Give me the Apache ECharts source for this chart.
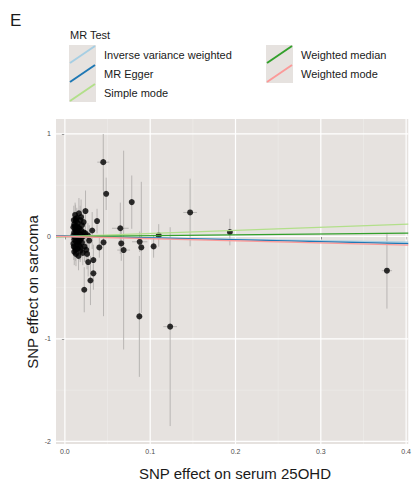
<!DOCTYPE html>
<html><head><meta charset="utf-8">
<script src="https://cdn.jsdelivr.net/npm/echarts@6/dist/echarts.min.js"></script>
<style>html,body{margin:0;padding:0;background:#fff}#c{width:414px;height:486px}</style>
</head><body><div id="c"></div>
<script>
// ---- data ----
const snpX = [
  0.0450, 0.0453, 0.0484, 0.0242, 0.0377, 0.0650, 0.0784, 0.1468, 0.1100, 0.0404,
  0.0661, 0.0689, 0.0877, 0.0896, 0.1040, 0.0334, 0.0273, 0.0334, 0.0300, 0.0227,
  0.0873, 0.1234, 0.3775, 0.1934,
  0.0120, 0.0140, 0.0165, 0.0130, 0.0110, 0.0150, 0.0180, 0.0100, 0.0120, 0.0140,
  0.0170, 0.0200, 0.0110, 0.0130, 0.0160, 0.0190, 0.0220, 0.0100, 0.0120, 0.0150,
  0.0180, 0.0210, 0.0240, 0.0270, 0.0320, 0.0110, 0.0130, 0.0160, 0.0190, 0.0100,
  0.0140, 0.0170, 0.0120, 0.0200, 0.0230, 0.0150, 0.0110, 0.0130, 0.0180, 0.0160,
  0.0210, 0.0250, 0.0260, 0.0190, 0.0220, 0.0170, 0.0145, 0.0125, 0.0105, 0.0155,
  0.0135, 0.0115, 0.0175, 0.0285, 0.0125, 0.0155, 0.0105, 0.0185
];
const snpY = [
  0.725, -0.058, 0.416, 0.248, 0.150, 0.080, 0.335, 0.234, 0.010, -0.107,
  -0.068, -0.133, -0.052, -0.107, -0.097, -0.230, -0.250, -0.360, -0.430, -0.520,
  -0.780, -0.880, -0.334, 0.043,
  0.210, 0.180, 0.225, 0.150, 0.120, 0.130, 0.160, 0.090, 0.070, 0.100,
  0.080, 0.110, 0.040, 0.050, 0.030, 0.060, 0.040, 0.010, -0.010, 0.000,
  0.020, 0.000, 0.030, 0.010, 0.058, -0.030, -0.050, -0.040, -0.020, -0.070,
  -0.080, -0.090, -0.110, -0.060, -0.100, -0.120, -0.150, -0.170, -0.140, -0.190,
  -0.160, -0.130, -0.170, 0.190, 0.140, -0.010, 0.060, -0.130, 0.160, -0.060,
  0.020, 0.100, -0.040, -0.040, 0.170, 0.085, -0.100, -0.110
];
const seX = [
  0.0070, 0.0030, 0.0030, 0.0025, 0.0025, 0.0098, 0.0030, 0.0080, 0.0020, 0.0025,
  0.0030, 0.0075, 0.0090, 0.0030, 0.0025, 0.0025, 0.0025, 0.0025, 0.0025, 0.0025,
  0.0030, 0.0080, 0.0060, 0.0020,
  0.0015, 0.0015, 0.0015, 0.0015, 0.0015, 0.0015, 0.0015, 0.0015, 0.0015, 0.0015,
  0.0015, 0.0015, 0.0015, 0.0015, 0.0015, 0.0015, 0.0015, 0.0015, 0.0015, 0.0015,
  0.0015, 0.0015, 0.0015, 0.0015, 0.0020, 0.0015, 0.0015, 0.0015, 0.0015, 0.0015,
  0.0015, 0.0015, 0.0015, 0.0015, 0.0015, 0.0015, 0.0015, 0.0015, 0.0015, 0.0015,
  0.0015, 0.0015, 0.0015, 0.0015, 0.0015, 0.0015, 0.0015, 0.0015, 0.0015, 0.0015,
  0.0015, 0.0015, 0.0015, 0.0020, 0.0015, 0.0015, 0.0015, 0.0015
];
const seY = [
  0.275, 0.720, 0.158, 0.200, 0.120, 0.250, 0.260, 0.330, 0.110, 0.100,
  0.170, 0.970, 0.100, 0.640, 0.110, 0.150, 0.140, 0.160, 0.240, 0.220,
  0.590, 0.970, 0.370, 0.130,
  0.120, 0.100, 0.150, 0.110, 0.130, 0.090, 0.140, 0.120, 0.100, 0.080,
  0.130, 0.150, 0.110, 0.090, 0.120, 0.100, 0.140, 0.120, 0.100, 0.130,
  0.090, 0.110, 0.160, 0.120, 0.180, 0.110, 0.120, 0.100, 0.130, 0.120,
  0.090, 0.140, 0.110, 0.120, 0.150, 0.100, 0.130, 0.120, 0.110, 0.140,
  0.120, 0.130, 0.150, 0.170, 0.130, 0.100, 0.120, 0.110, 0.140, 0.100,
  0.120, 0.130, 0.110, 0.150, 0.140, 0.110, 0.130, 0.120
];
const methods = ['Inverse variance weighted', 'MR Egger', 'Simple mode', 'Weighted median', 'Weighted mode'];
const methodIntercept = [0, 0.006, 0, 0, 0];
const methodSlope = [-0.14, -0.19, 0.30, 0.08, -0.21];
const methodColors = ['#a6cee3', '#1f78b4', '#b2df8a', '#33a02c', '#fb9a99'];
const xTicks = [0, 0.1, 0.2, 0.3, 0.4];
const yTicks = [-2, -1, 0, 1];
const xMinor = [0.05, 0.15, 0.25, 0.35];
const yMinor = [-1.5, -0.5, 0.5];
const X_MIN = -0.0104, X_MAX = 0.4025, Y_MIN = -2.025, Y_MAX = 1.146;

// ---- build ----
const FONT = '"Liberation Sans", Arial, Helvetica, sans-serif';
const PANEL = '#e6e2df';
const chart = echarts.init(document.getElementById('c'), null, {renderer: 'svg'});

const points = snpX.map((x, i) => [x, snpY[i], seX[i], seY[i]]);
const gridData = []
  .concat(xMinor.map(v => [v, 1]))
  .concat(yMinor.map(v => [v, 3]))
  .concat(xTicks.map(v => [v, 0]))
  .concat(yTicks.map(v => [v, 2]));

const lineSeries = methods.map((m, i) => ({
  type: 'line', name: m, z: 5, clip: true, symbol: 'none', silent: true,
  lineStyle: {color: methodColors[i], width: 1.3},
  data: [[X_MIN, methodIntercept[i] + methodSlope[i] * X_MIN],
         [X_MAX, methodIntercept[i] + methodSlope[i] * X_MAX]]
}));

// legend graphics
const legendEls = [];
const keyW = 27, keyH = 19;
const keyPos = [[69, 45], [69, 64], [69, 83], [266, 45], [266, 64]];
methods.forEach((m, i) => {
  const [kx, ky] = keyPos[i];
  legendEls.push({type: 'rect', shape: {x: kx, y: ky, width: keyW, height: keyH}, style: {fill: PANEL}});
  legendEls.push({type: 'line', shape: {x1: kx + 1, y1: ky + keyH - 1, x2: kx + keyW - 1, y2: ky + 1},
    style: {stroke: methodColors[i], lineWidth: 2}});
  legendEls.push({type: 'text', x: kx + 35, y: ky + keyH / 2,
    style: {text: m, fontSize: 11, fontFamily: FONT, fill: '#1a1a1a', verticalAlign: 'middle', align: 'left'}});
});

chart.setOption({
  animation: false,
  grid: {left: 56, right: 0, top: 119, bottom: 42, show: true, backgroundColor: PANEL, borderWidth: 0},
  xAxis: {
    type: 'value', min: X_MIN, max: X_MAX,
    axisLine: {show: false},
    axisTick: {show: true, length: 3, lineStyle: {color: '#333333', width: 1}, customValues: xTicks},
    axisLabel: {customValues: xTicks, formatter: v => v.toFixed(1), fontSize: 7, color: '#4d4d4d', margin: 4, fontFamily: FONT},
    splitLine: {show: false}
  },
  yAxis: {
    type: 'value', min: Y_MIN, max: Y_MAX,
    axisLine: {show: false},
    axisTick: {show: true, length: 3, lineStyle: {color: '#333333', width: 1}, customValues: yTicks},
    axisLabel: {customValues: yTicks, formatter: v => String(v), fontSize: 7, color: '#4d4d4d', margin: 5, fontFamily: FONT},
    splitLine: {show: false}
  },
  graphic: [
    {type: 'text', x: 10, y: 12, style: {text: 'E', fontSize: 17, fontFamily: FONT, fill: '#1a1a1a'}},
    {type: 'text', x: 70, y: 29, style: {text: 'MR Test', fontSize: 11, fontFamily: FONT, fill: '#1a1a1a'}},
    {type: 'text', x: 32, y: 292, rotation: Math.PI / 2,
      style: {text: 'SNP effect on sarcoma', fontSize: 15, fontFamily: FONT, fill: '#1a1a1a', align: 'center', verticalAlign: 'middle'}},
    {type: 'text', x: 235, y: 473,
      style: {text: 'SNP effect on serum 25OHD', fontSize: 15, fontFamily: FONT, fill: '#1a1a1a', align: 'center', verticalAlign: 'middle'}}
  ].concat(legendEls),
  series: [
    {
      type: 'custom', z: 1, silent: true, clip: true, data: gridData,
      renderItem: (params, api) => {
        const v = api.value(0), kind = api.value(1);
        const cs = params.coordSys;
        const major = kind === 0 || kind === 2;
        const st = {stroke: major ? '#ffffff' : '#efedeb', lineWidth: major ? 1.2 : 0.6};
        if (kind === 0 || kind === 1) {
          const px = api.coord([v, 0])[0];
          return {type: 'line', shape: {x1: px, y1: cs.y, x2: px, y2: cs.y + cs.height}, style: st};
        }
        const py = api.coord([0, v])[1];
        return {type: 'line', shape: {x1: cs.x, y1: py, x2: cs.x + cs.width, y2: py}, style: st};
      }
    },
    {
      type: 'custom', z: 2, silent: true, clip: true, data: points,
      renderItem: (params, api) => {
        const x = api.value(0), y = api.value(1), sx = api.value(2), sy = api.value(3);
        const a = api.coord([x, y - sy]), b = api.coord([x, y + sy]);
        const c = api.coord([x - sx, y]), d = api.coord([x + sx, y]);
        const st = {stroke: '#b8b5b3', lineWidth: 1};
        return {type: 'group', children: [
          {type: 'line', shape: {x1: a[0], y1: a[1], x2: b[0], y2: b[1]}, style: st},
          {type: 'line', shape: {x1: c[0], y1: c[1], x2: d[0], y2: d[1]}, style: st}
        ]};
      }
    },
    {
      type: 'scatter', z: 3, silent: true, symbol: 'circle', symbolSize: 6,
      itemStyle: {color: '#000000'}, data: points.map(p => [p[0], p[1]])
    }
  ].concat(lineSeries)
});
</script>
</body></html>
